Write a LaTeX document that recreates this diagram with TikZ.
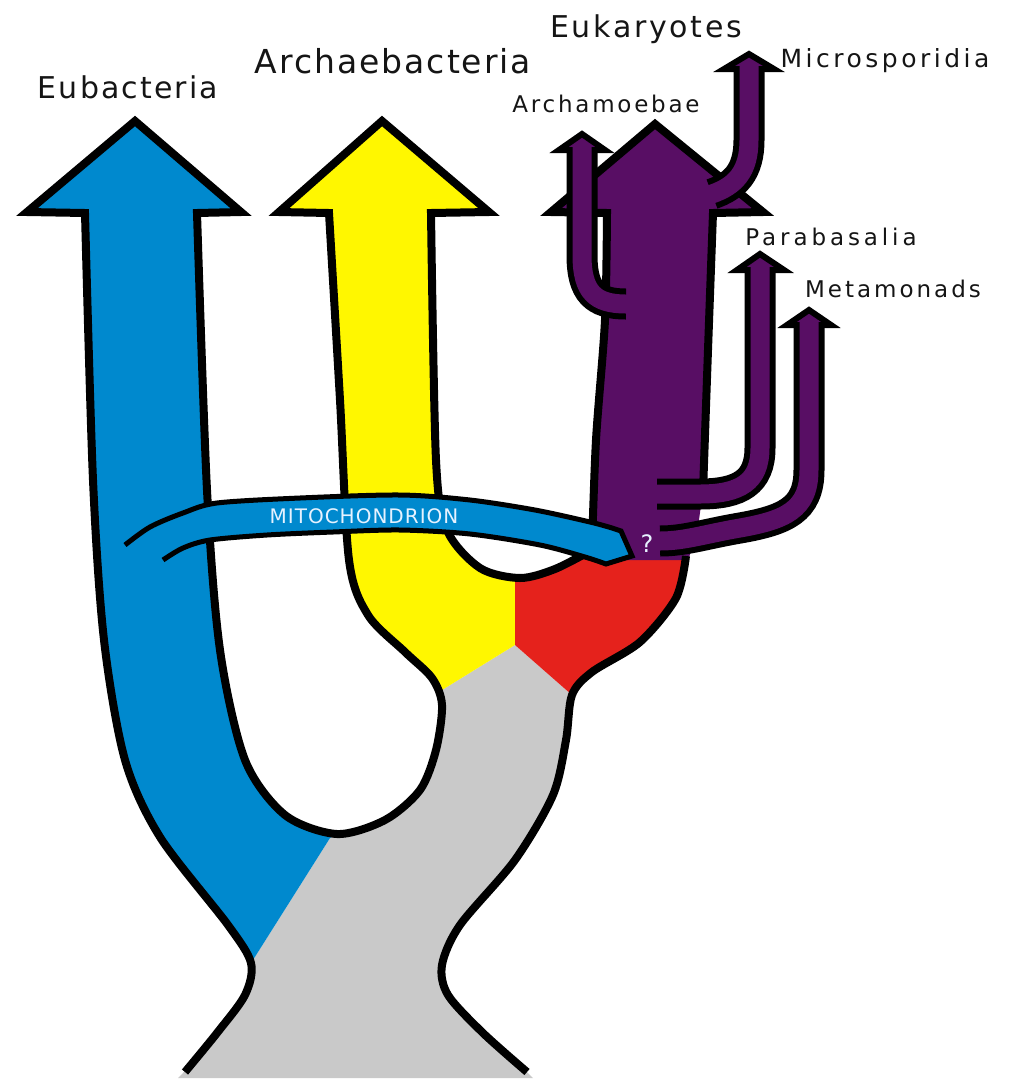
\documentclass[tikz,border=0pt]{standalone}
\usepackage{fontspec}
\setmainfont{DejaVu Sans}
\definecolor{ink}{HTML}{000000}
\definecolor{txt}{HTML}{151515}
\definecolor{ceub}{HTML}{0089CE}
\definecolor{carc}{HTML}{FFF700}
\definecolor{ceuk}{HTML}{580E64}
\definecolor{cfus}{HTML}{E5221C}
\definecolor{cbase}{HTML}{C9C9C9}
\definecolor{mtxt}{HTML}{E6F2FF}
\newcommand{\lblf}[2]{\addfontfeatures{LetterSpace=#2}\fontsize{#1}{#1}\selectfont}
\tikzset{
  outl/.style={draw=ink, line width=8pt, line join=miter},
  brcase/.style={draw=ink, line width=31pt},
  brfill/.style={draw=ceuk, line width=19pt},
  brhead/.style={fill=ceuk, draw=ink, line width=6pt, line join=miter},
  mitol/.style={draw=ink, line width=5pt, fill=ceub, line join=miter},
  lbl/.style={text=txt, inner sep=0pt, anchor=base},
  mlbl/.style={text=mtxt, inner sep=0pt, anchor=base, font=\lblf{20}{5}},
}

\begin{document}
\begin{tikzpicture}[x=1pt,y=-1pt]
\useasboundingbox (0,0) rectangle (1014,1080);
% colour regions
\fill[cbase] (178,1078) -- (533,1078) -- plot[smooth] coordinates {(528,1073) (483,1033) (448,995) (442,965) (460,925) (515,860) (553,795) (566,740) (572,695)}
  -- (515,645) -- (442,690) -- plot[smooth] coordinates {(442,705) (436,750) (420,790) (385,820) (337,834)}
  -- (330,838) -- (253,960) -- plot[smooth] coordinates {(251,963) (245,995) (217,1033) (183,1073)} -- cycle;
\fill[ceub] plot[smooth] coordinates {(253,960) (228,925) (160,837) (125,760) (104,640) (93,480) (85,213)}
  -- (27,212) -- (135,121) -- (241,212) -- (197,213)
  -- plot[smooth] coordinates {(197,213) (207,490) (220,650) (245,760) (285,815) (337,834)} -- (330,838) -- cycle;
\fill[carc] (442,690) -- plot[smooth] coordinates {(440,690) (410,657) (368,615) (349,560) (340,400) (329,213)}
  -- (279,212) -- (382,121) -- (489,212) -- (431,213)
  -- plot[smooth] coordinates {(431,213) (436,460) (447,530) (480,568) (515,578)} -- (515,645) -- cycle;
\fill[cfus] (515,578) -- (552,570) -- (575,557) -- (600,552) -- (686,552)
  -- plot[smooth] coordinates {(686,556) (676,598) (640,642) (592,672) (572,695)} -- (515,645) -- cycle;
\fill[ceuk] (607,213) -- (551,212) -- (655,124) -- (763,212) -- (713,213) -- (703,490) -- (697,535) -- (688,560) -- (596,560) -- (593,510) -- cycle;
% outlines
\draw[outl] plot[smooth] coordinates {(185,1072) (217,1033) (245,995) (251,963) (228,925) (160,837) (125,760) (104,640) (93,480) (85,213)}
  -- (27,212) -- (135,121) -- (241,212) -- (197,213)
  -- plot[smooth] coordinates {(197,213) (207,490) (220,650) (245,760) (285,815) (337,834) (385,820) (420,790) (436,750) (442,705) (432,678) (405,652) (368,615) (349,560) (340,400) (329,213)}
  -- (279,212) -- (382,121) -- (489,212) -- (431,213)
  -- plot[smooth] coordinates {(431,213) (436,460) (447,530) (480,568) (520,578) (555,569) (592,550)};
\draw[outl] plot[smooth] coordinates {(686,556) (676,598) (640,642) (592,672) (572,695) (566,740) (553,795) (515,860) (460,925) (442,965) (448,995) (483,1033) (527,1072)};
\draw[outl] plot[smooth] coordinates {(592,548) (596,440) (605,320) (607,213)}
  -- (551,212) -- (655,124) -- (763,212) -- (713,213)
  -- plot[smooth] coordinates {(713,213) (708,350) (703,492)};
% eukaryote branches
\draw[brhead] (559,150) -- (582,134) -- (605,150) -- cycle;
\draw[brcase] (582,150) -- (582,255) .. controls (582,292) and (595,304) .. (626,304);
\draw[brfill] (582,145) -- (582,255) .. controls (582,292) and (595,304) .. (626,304) -- (634,304);
\draw[brhead] (724,69) -- (749,54) -- (774,69) -- cycle;
\draw[brcase] (749,69) -- (749,140) .. controls (749,172) and (735,186) .. (712,194);
\draw[brfill] (749,64) -- (749,140) .. controls (749,172) and (735,186) .. (712,194) -- (703,197);
\draw[brhead] (737,270) -- (760,254) -- (784,270) -- cycle;
\draw[brcase] (760,270) -- (760,448) .. controls (760,482) and (740,494) .. (700,494) -- (657,494);
\draw[brfill] (760,265) -- (760,448) .. controls (760,482) and (740,494) .. (700,494) -- (650,494);
\draw[brhead] (787,325) -- (809,310) -- (831,325) -- cycle;
\draw[brcase] (809,325) -- (809,470) .. controls (809,510) and (785,520) .. (740,528) .. controls (705,534) and (685,541) .. (660,541);
\draw[brfill] (809,320) -- (809,470) .. controls (809,510) and (785,520) .. (740,528) .. controls (705,534) and (685,541) .. (660,541) -- (650,541);
% mitochondrion
\draw[mitol] plot[smooth] coordinates {(125,545) (150,527) (183,513) (217,503) (300,498) (400,495) (470,500) (535,510) (590,522) (612,528)}
  -- (621,531) -- (632,556) -- (606,564)
  -- plot[smooth] coordinates {(606,564) (585,557) (540,545) (470,534) (400,530) (333,532) (267,535) (210,540) (183,548) (163,560)};
\node[mlbl] (mito) at (364,523) {MITOCHONDRION};
\node[mlbl, font=\lblf{24}{0}] (quest) at (647,552) {?};
% labels
\node[lbl, font=\lblf{30}{7}] (eub) at (128,98) {Eubacteria};
\node[lbl, font=\lblf{33}{6}] (arc) at (393,73) {Archaebacteria};
\node[lbl, font=\lblf{30}{9}] (euk) at (646,37) {Eukaryotes};
\node[lbl, font=\lblf{25}{14}] (micro) at (885,67) {Microsporidia};
\node[lbl, font=\lblf{23}{12}] (amoeb) at (606,112) {Archamoebae};
\node[lbl, font=\lblf{23}{17}] (parab) at (831,245) {Parabasalia};
\node[lbl, font=\lblf{23}{13}] (metam) at (893,297) {Metamonads};
\end{tikzpicture}
\end{document}
